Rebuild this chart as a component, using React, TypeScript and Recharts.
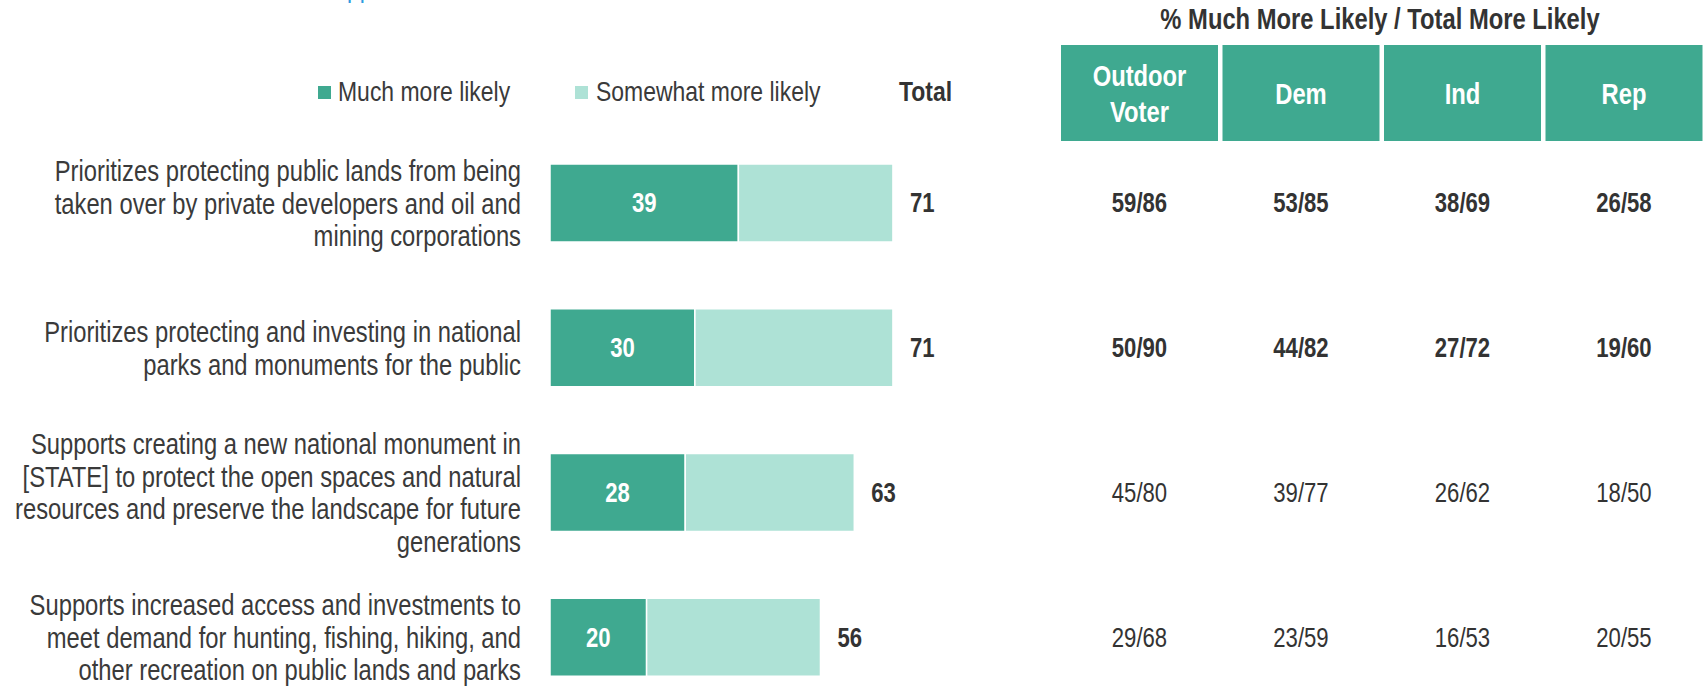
import { BarChart, Bar, XAxis, YAxis, LabelList } from 'recharts'

// no narrow font installed: squeeze Liberation Sans like Arial Narrow
const FONT = "'Liberation Sans', Arial, sans-serif"
const NARROW = 0.82
const DARK = '#3FA990'
const LIGHT = '#AEE2D6'
const TEXT = '#333333'
const LABEL = '#3a3a3a'

// statements (line breaks as in the slide)
const statements = [
  'Prioritizes protecting public lands from being\ntaken over by private developers and oil and\nmining corporations',
  'Prioritizes protecting and investing in national\nparks and monuments for the public',
  'Supports creating a new national monument in\n[STATE] to protect the open spaces and natural\nresources and preserve the landscape for future\ngenerations',
  'Supports increased access and investments to\nmeet demand for hunting, fishing, hiking, and\nother recreation on public lands and parks',
]
const muchMore = [39, 30, 28, 20]
const totalMore = [71, 71, 63, 56]

// % much more likely / total more likely by group
const groups = ['Outdoor\nVoter', 'Dem', 'Ind', 'Rep']
const outdoorVoter = ['59/86', '50/90', '45/80', '29/68']
const dem = ['53/85', '44/82', '39/77', '23/59']
const ind = ['38/69', '27/72', '26/62', '16/53']
const rep = ['26/58', '19/60', '18/50', '20/55']

const data = statements.map((s, i) => ({
  name: s,
  much: muchMore[i],
  somewhat: totalMore[i] - muchMore[i],
  total: totalMore[i],
  row: i,
}))

const tableCols = [outdoorVoter, dem, ind, rep]
const CELL_X0 = 1061
const CELL_W = 157
const CELL_STEP = 161.5

type NTextProps = {
  x: number
  y: number
  size: number
  anchor?: 'start' | 'middle' | 'end'
  bold?: boolean
  fill?: string
  dy?: string
  children: any
}

function NText({ x, y, size, anchor = 'start', bold, fill = TEXT, dy, children }: NTextProps) {
  return (
    <text
      transform={`translate(${x} ${y}) scale(${NARROW} 1)`}
      x={0}
      y={0}
      dy={dy}
      textAnchor={anchor}
      fontFamily={FONT}
      fontSize={size}
      fontWeight={bold ? 'bold' : 'normal'}
      fill={fill}
    >
      {children}
    </text>
  )
}

function StatementTick({ y, payload }: any) {
  const lines = String(payload.value).split('\n')
  const lh = 32.5
  const y0 = y - ((lines.length - 1) * lh) / 2
  return (
    <g>
      {lines.map((l, i) => (
        <NText key={i} x={521} y={y0 + i * lh} dy="0.35em" size={29} anchor="end" fill={LABEL}>
          {l}
        </NText>
      ))}
    </g>
  )
}

function MuchLabel({ x, y, width, height, value }: any) {
  return (
    <NText x={x + width / 2} y={y + height / 2} dy="0.35em" size={27} anchor="middle" bold fill="#fff">
      {value}
    </NText>
  )
}

function RowLabels({ x, y, width, height, value }: any) {
  const cy = y + height / 2
  const idx = Number(value)
  const bold = idx < 2
  return (
    <g>
      <NText x={x + width + 17} y={cy} dy="0.35em" size={27} bold>
        {totalMore[idx]}
      </NText>
      {tableCols.map((col, c) => (
        <NText
          key={c}
          x={CELL_X0 + c * CELL_STEP + CELL_W / 2}
          y={cy}
          dy="0.35em"
          size={27}
          anchor="middle"
          bold={bold}
        >
          {col[idx]}
        </NText>
      ))}
    </g>
  )
}

function Header() {
  return (
    <svg
      width={1705}
      height={150}
      style={{ position: 'absolute', left: 0, top: 0, pointerEvents: 'none' }}
    >
      {/* cut-off title from the slide above */}
      <NText x={347} y={-3} size={28} fill="#2E9BE0">
        pp
      </NText>

      {/* legend */}
      <rect x={318} y={86} width={13} height={13} fill={DARK} />
      <NText x={338} y={101} size={28} fill={LABEL}>
        Much more likely
      </NText>
      <rect x={575} y={86} width={13} height={13} fill={LIGHT} />
      <NText x={596} y={101} size={28} fill={LABEL}>
        Somewhat more likely
      </NText>
      <NText x={899} y={101} size={28} bold>
        Total
      </NText>

      {/* table header */}
      <NText x={1380} y={29} size={29} bold anchor="middle">
        % Much More Likely / Total More Likely
      </NText>
      {groups.map((g, i) => {
        const x = CELL_X0 + i * CELL_STEP
        const lines = g.split('\n')
        const cy = 94
        const lh = 36
        return (
          <g key={g}>
            <rect x={x} y={45} width={CELL_W} height={96} fill={DARK} />
            {lines.map((l, j) => (
              <NText
                key={j}
                x={x + CELL_W / 2}
                y={cy - ((lines.length - 1) * lh) / 2 + j * lh}
                dy="0.35em"
                size={29}
                anchor="middle"
                bold
                fill="#fff"
              >
                {l}
              </NText>
            ))}
          </g>
        )
      })}
    </svg>
  )
}

export default function App() {
  return (
    <div style={{ position: 'relative', width: 1705, height: 687, overflow: 'hidden', background: '#fff' }}>
      <style>{'body{margin:0}'}</style>
      <BarChart
        width={1705}
        height={712}
        data={data}
        layout="vertical"
        margin={{ top: 131, right: 672, bottom: 2, left: 0 }}
        barCategoryGap={0}
      >
        <XAxis type="number" domain={[0, 100]} hide />
        <YAxis
          type="category"
          dataKey="name"
          width={550}
          axisLine={false}
          tickLine={false}
          tick={<StatementTick />}
          interval={0}
        />
        <Bar
          dataKey="much"
          stackId="a"
          fill={DARK}
          stroke="#fff"
          strokeWidth={1.5}
          barSize={78}
          isAnimationActive={false}
        >
          <LabelList dataKey="much" content={<MuchLabel />} />
        </Bar>
        <Bar
          dataKey="somewhat"
          stackId="a"
          fill={LIGHT}
          stroke="#fff"
          strokeWidth={1.5}
          barSize={78}
          isAnimationActive={false}
        >
          <LabelList dataKey="row" content={<RowLabels />} />
        </Bar>
      </BarChart>
      <Header />
    </div>
  )
}
